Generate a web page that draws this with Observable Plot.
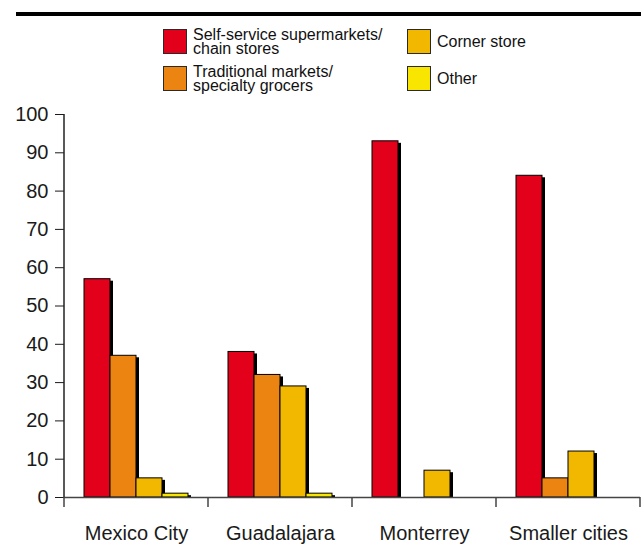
<!DOCTYPE html>
<html><head><meta charset="utf-8">
<script src="https://cdn.jsdelivr.net/npm/d3@7"></script>
<script src="https://cdn.jsdelivr.net/npm/@observablehq/plot@0.6"></script>
<style>
html,body{margin:0;padding:0;background:#fff;}
#wrap{position:relative;width:641px;height:558px;font-family:"Liberation Sans",Arial,sans-serif;color:#111;overflow:hidden;background:#fff;}
#rule{position:absolute;left:16px;top:12px;width:625px;height:3.5px;background:#000;}
#legend{position:absolute;left:163px;top:23px;display:grid;grid-template-rows:37px 37px;grid-template-columns:244px auto;grid-auto-flow:column;}
.item{display:flex;align-items:center;}
.sw{box-sizing:border-box;width:24px;height:25px;border:1.5px solid #2a2a2a;margin-right:6px;flex:none;}
.lab{font-size:16px;line-height:14px;white-space:pre-line;color:#111;}
#chart{position:absolute;left:0;top:100px;}
</style></head><body>
<div id="wrap"><div id="rule"></div><div id="legend"></div><div id="chart"></div></div>
<script>
const cities = ["Mexico City", "Guadalajara", "Monterrey", "Smaller cities"];
const series = ["Self-service supermarkets/\nchain stores", "Traditional markets/\nspecialty grocers", "Corner store", "Other"];
const colors = ["#e2001a", "#ec8412", "#f2b800", "#f8e600"];
const selfService = [57, 38, 93, 84];
const traditional = [37, 32, null, 5];
const corner = [5, 29, 7, 12];
const other = [1, 1, null, null];
const yTicks = [0, 10, 20, 30, 40, 50, 60, 70, 80, 90, 100];

const seriesValues = [selfService, traditional, corner, other];
const rows = cities.flatMap((c, i) => series.map((s, j) => ({city: c, series: s, value: seriesValues[j][i]})));

// legend (two columns, column-major)
const legend = d3.select("#legend");
series.forEach((s, j) => {
  const it = legend.append("div").attr("class", "item");
  it.append("div").attr("class", "sw").style("background", colors[j]);
  it.append("div").attr("class", "lab").text(s);
});

const chart = Plot.plot({
  width: 641, height: 458,
  marginTop: 14, marginBottom: 61, marginLeft: 63, marginRight: 0,
  style: {fontFamily: "Liberation Sans, Arial, sans-serif", fontSize: "20px", color: "#1a1a1a", background: "transparent", overflow: "visible"},
  facet: {data: rows, x: "city", marginTop: 0, marginBottom: 0, marginLeft: 0, marginRight: 0},
  fx: {domain: cities, padding: 0, axis: "bottom", tickSize: 0, tickPadding: 28, label: null},
  x: {domain: series, paddingInner: 0, paddingOuter: 0.7, axis: null},
  y: {domain: [0, 100], ticks: yTicks, tickSize: 9, tickPadding: 7, label: null},
  color: {domain: series, range: colors},
  marks: [
    Plot.barY(rows, {x: "series", y: "value", fill: "#000", dx: 3, insetTop: 2}),
    Plot.barY(rows, {x: "series", y: "value", fill: "series", stroke: "#000", strokeWidth: 1}),
    Plot.ruleY([0], {stroke: "#444", strokeWidth: 1.5})
  ]
});
document.getElementById("chart").appendChild(chart);

// y-axis domain line and category boundary ticks, from the plot's own scales
const svg = d3.select(chart);
const ys = chart.scale("y"), fs = chart.scale("fx");
const y0 = ys.apply(0), y100 = ys.apply(100);
const x0 = fs.apply(cities[0]);
svg.append("line").attr("x1", x0).attr("x2", x0).attr("y1", y100).attr("y2", y0)
  .attr("stroke", "#222").attr("stroke-width", 1.5);
const edges = cities.map(c => fs.apply(c)).concat([fs.apply(cities[cities.length - 1]) + fs.bandwidth]);
svg.selectAll("line.edge").data(edges).join("line").attr("class", "edge")
  .attr("x1", d => d).attr("x2", d => d).attr("y1", y0).attr("y2", y0 + 10)
  .attr("stroke", "#444").attr("stroke-width", 1.5);
</script>
</body></html>
